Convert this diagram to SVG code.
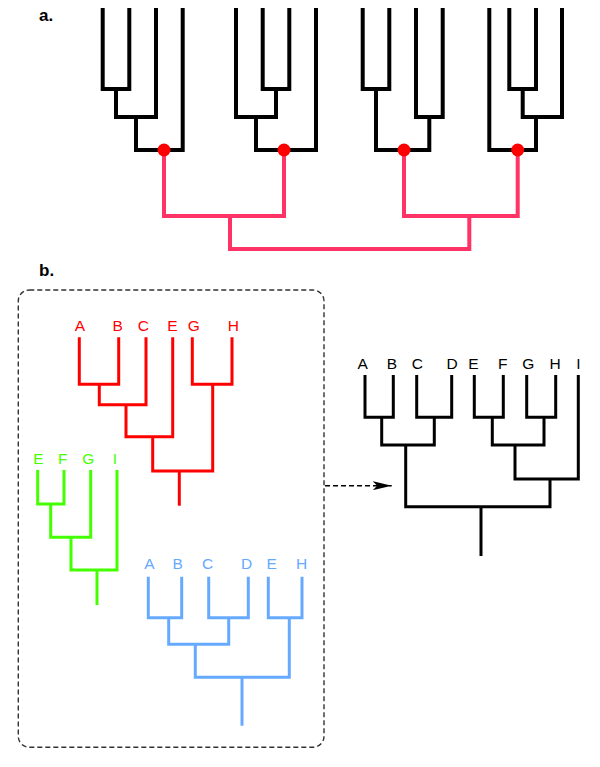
<svg xmlns="http://www.w3.org/2000/svg" width="600" height="767" viewBox="0 0 600 767">
<style>
.bg{fill:#fff}
.ta{fill:none;stroke:#000;stroke-width:4;stroke-linejoin:miter}
.tb{fill:none;stroke-width:3;stroke-linejoin:miter}
.con{fill:none;stroke:#ff3366;stroke-width:4;stroke-linejoin:miter}
.dot{fill:#ff0000}
.lbl{font-family:"Liberation Sans",Arial,sans-serif;font-size:15.5px;text-anchor:middle}
.head{font-family:"Liberation Sans",Arial,sans-serif;font-size:17px;font-weight:bold;fill:#000}
.red{stroke:#ff0000}
.redt{fill:#ff0000}
.grn{stroke:#44ff00}
.grnt{fill:#44ff00}
.blu{stroke:#66aaff}
.blut{fill:#66aaff}
.blk{stroke:#000}
.blkt{fill:#000}
</style>
<defs>
<marker id="stealth" markerUnits="userSpaceOnUse" viewBox="0 0 19 9" refX="19" refY="4.5" markerWidth="19" markerHeight="9" orient="auto">
<path d="M0 0 L19 4.5 L0 9 L4.5 4.5 Z" fill="#000"/>
</marker>
</defs>
<rect class="bg" x="0" y="0" width="600" height="767"/>
<text class="head" x="39" y="21">a.</text>
<text class="head" x="39" y="276">b.</text>

<g id="connectors">
<path class="con" d="M164 150 V216 H284 V150"/>
<path class="con" d="M404 150 V216 H517.7 V150"/>
<path class="con" d="M230 216 V249 H469.3 V216"/>
<rect x="18.3" y="290" width="305.7" height="457.3" rx="11" fill="none" stroke="#333" stroke-width="1.4" stroke-dasharray="5 3"/>
<line x1="325" y1="485.7" x2="391.7" y2="485.7" stroke="#000" stroke-width="1.5" stroke-dasharray="5 3" marker-end="url(#stealth)"/>
</g>

<g id="tree-a1">
<path class="ta" d="M102.7 8 V89 H129.3 V8"/>
<path class="ta" d="M116 89 V117 H156 V8"/>
<path class="ta" d="M136 117 V150 H182.7 V8"/>
<circle class="dot" cx="164" cy="150" r="6.5"/>
</g>
<g id="tree-a2">
<path class="ta" d="M262.7 8 V89 H289.3 V8"/>
<path class="ta" d="M276 89 V117 H236 V8"/>
<path class="ta" d="M256 117 V150 H316 V8"/>
<circle class="dot" cx="284" cy="150" r="6.5"/>
</g>
<g id="tree-a3">
<path class="ta" d="M362.7 8 V89 H389.3 V8"/>
<path class="ta" d="M416 8 V117 H442.7 V8"/>
<path class="ta" d="M376 89 V150 H429.3 V117"/>
<circle class="dot" cx="404" cy="150" r="6.5"/>
</g>
<g id="tree-a4">
<path class="ta" d="M509.3 8 V89 H536 V8"/>
<path class="ta" d="M522.7 89 V117 H562 V8"/>
<path class="ta" d="M536 117 V150 H489.3 V8"/>
<circle class="dot" cx="517.7" cy="150" r="6.5"/>
</g>

<g id="tree-red">
<path class="tb red" d="M79.3 337.3 V384.3 H118.7 V337.3"/>
<path class="tb red" d="M99.3 384.3 V404.7 H146 V337.3"/>
<path class="tb red" d="M126 404.7 V436.7 H172.7 V337.3"/>
<path class="tb red" d="M192.3 337.3 V384.3 H232 V337.3"/>
<path class="tb red" d="M152.7 436.7 V471 H212.7 V384.3"/>
<path class="tb red" d="M179.3 471 V505.7"/>
<g class="lbl redt">
<text x="80" y="330.7">A</text><text x="117.7" y="330.7">B</text><text x="143.3" y="330.7">C</text>
<text x="172.3" y="330.7">E</text><text x="193.7" y="330.7">G</text><text x="233.3" y="330.7">H</text>
</g>
</g>

<g id="tree-green">
<path class="tb grn" d="M37.7 470 V504 H64 V470"/>
<path class="tb grn" d="M50.7 504 V537.3 H90.7 V470"/>
<path class="tb grn" d="M71 537.3 V570 H117 V470"/>
<path class="tb grn" d="M97 570 V605"/>
<g class="lbl grnt">
<text x="38.3" y="464">E</text><text x="62.7" y="464">F</text><text x="88.3" y="464">G</text><text x="115" y="464">I</text>
</g>
</g>

<g id="tree-blue">
<path class="tb blu" d="M148.3 576.7 V617.7 H181.7 V576.7"/>
<path class="tb blu" d="M208.7 576.7 V617.7 H248.3 V576.7"/>
<path class="tb blu" d="M268.3 576.7 V617.7 H302 V576.7"/>
<path class="tb blu" d="M168.7 617.7 V644.3 H228.7 V617.7"/>
<path class="tb blu" d="M195.3 644.3 V677.3 H289.3 V617.7"/>
<path class="tb blu" d="M242 677.3 V725.7"/>
<g class="lbl blut">
<text x="149.3" y="569.3">A</text><text x="177.7" y="569.3">B</text><text x="207.7" y="569.3">C</text>
<text x="246.7" y="569.3">D</text><text x="271.7" y="569.3">E</text><text x="301.7" y="569.3">H</text>
</g>
</g>

<g id="tree-black">
<path class="tb blk" d="M365 375 V417.3 H393.3 V375"/>
<path class="tb blk" d="M416.7 375 V417.3 H451.7 V375"/>
<path class="tb blk" d="M474.3 375 V417.3 H503.3 V375"/>
<path class="tb blk" d="M526.7 375 V417.3 H555.7 V375"/>
<path class="tb blk" d="M381.7 417.3 V445 H434.3 V417.3"/>
<path class="tb blk" d="M492.3 417.3 V445 H544 V417.3"/>
<path class="tb blk" d="M515 445 V479 H578.3 V375"/>
<path class="tb blk" d="M405.7 445 V506.7 H550 V479"/>
<path class="tb blk" d="M481 506.7 V556"/>
<g class="lbl blkt">
<text x="362.7" y="369">A</text><text x="392" y="369">B</text><text x="417.3" y="369">C</text>
<text x="452" y="369">D</text><text x="473.3" y="369">E</text><text x="502.7" y="369">F</text>
<text x="528.3" y="369">G</text><text x="555" y="369">H</text><text x="578.3" y="369">I</text>
</g>
</g>
</svg>
